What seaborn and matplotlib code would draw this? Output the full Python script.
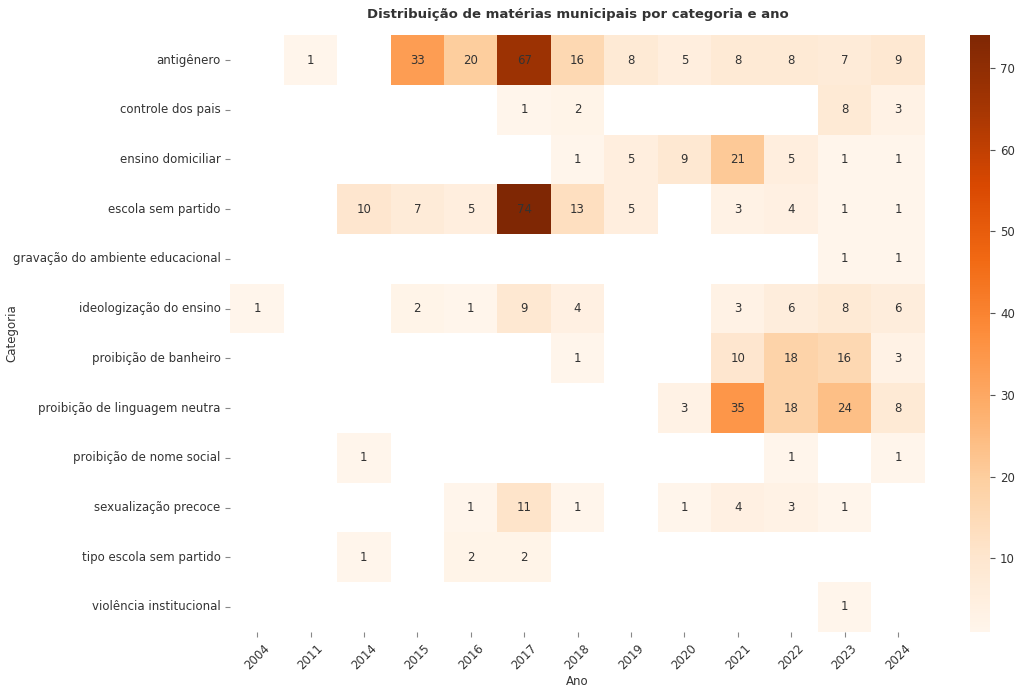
import numpy as np
import pandas as pd
import matplotlib
matplotlib.use("Agg")
import matplotlib.pyplot as plt
import seaborn as sns

years = ["2004","2011","2014","2015","2016","2017","2018","2019","2020","2021","2022","2023","2024"]
categories = ["antigênero","controle dos pais","ensino domiciliar","escola sem partido",
              "gravação do ambiente educacional","ideologização do ensino","proibição de banheiro",
              "proibição de linguagem neutra","proibição de nome social","sexualização precoce",
              "tipo escola sem partido","violência institucional"]
n = np.nan
antigenero     = [n,1,n,33,20,67,16,8,5,8,8,7,9]
controle       = [n,n,n,n,n,1,2,n,n,n,n,8,3]
domiciliar     = [n,n,n,n,n,n,1,5,9,21,5,1,1]
esp            = [n,n,10,7,5,74,13,5,n,3,4,1,1]
gravacao       = [n,n,n,n,n,n,n,n,n,n,n,1,1]
ideologizacao  = [1,n,n,2,1,9,4,n,n,3,6,8,6]
banheiro       = [n,n,n,n,n,n,1,n,n,10,18,16,3]
linguagem      = [n,n,n,n,n,n,n,n,3,35,18,24,8]
nome_social    = [n,n,1,n,n,n,n,n,n,n,1,n,1]
sexualizacao   = [n,n,n,n,1,11,1,n,1,4,3,1,n]
tipo_esp       = [n,n,1,n,2,2,n,n,n,n,n,n,n]
violencia      = [n,n,n,n,n,n,n,n,n,n,n,1,n]

df = pd.DataFrame([antigenero,controle,domiciliar,esp,gravacao,ideologizacao,banheiro,
                   linguagem,nome_social,sexualizacao,tipo_esp,violencia],
                  index=categories, columns=years)

fig = plt.figure(figsize=(10.24, 6.89), dpi=100)
ax = fig.add_axes([0.225, 0.083, 0.678, 0.866])
cax = fig.add_axes([0.947, 0.083, 0.02, 0.866])
sns.heatmap(df, ax=ax, cbar_ax=cax, cmap="Oranges", annot=True, fmt=".0f",
            annot_kws={"fontsize": 8.5, "color": "#333333"})
cb = ax.collections[0].colorbar
cb.outline.set_visible(False)
cax.tick_params(labelsize=8.5, colors="#555555", labelcolor="#333333")
ax.set_title("Distribuição de matérias municipais por categoria e ano", fontsize=9.5,
             fontweight="bold", pad=12, color="#333333")
ax.set_xlabel("Ano", fontsize=8.5, color="#333333", labelpad=2)
ax.set_ylabel("Categoria", fontsize=8.5, color="#333333")
ax.yaxis.set_label_coords(-0.305, 0.5)
ax.tick_params(axis="x", labelsize=8.5, rotation=45, colors="#888888", labelcolor="#333333")
ax.tick_params(axis="y", labelsize=8.5, rotation=0, colors="#888888", labelcolor="#333333")
fig.savefig("out.png", dpi=100)
